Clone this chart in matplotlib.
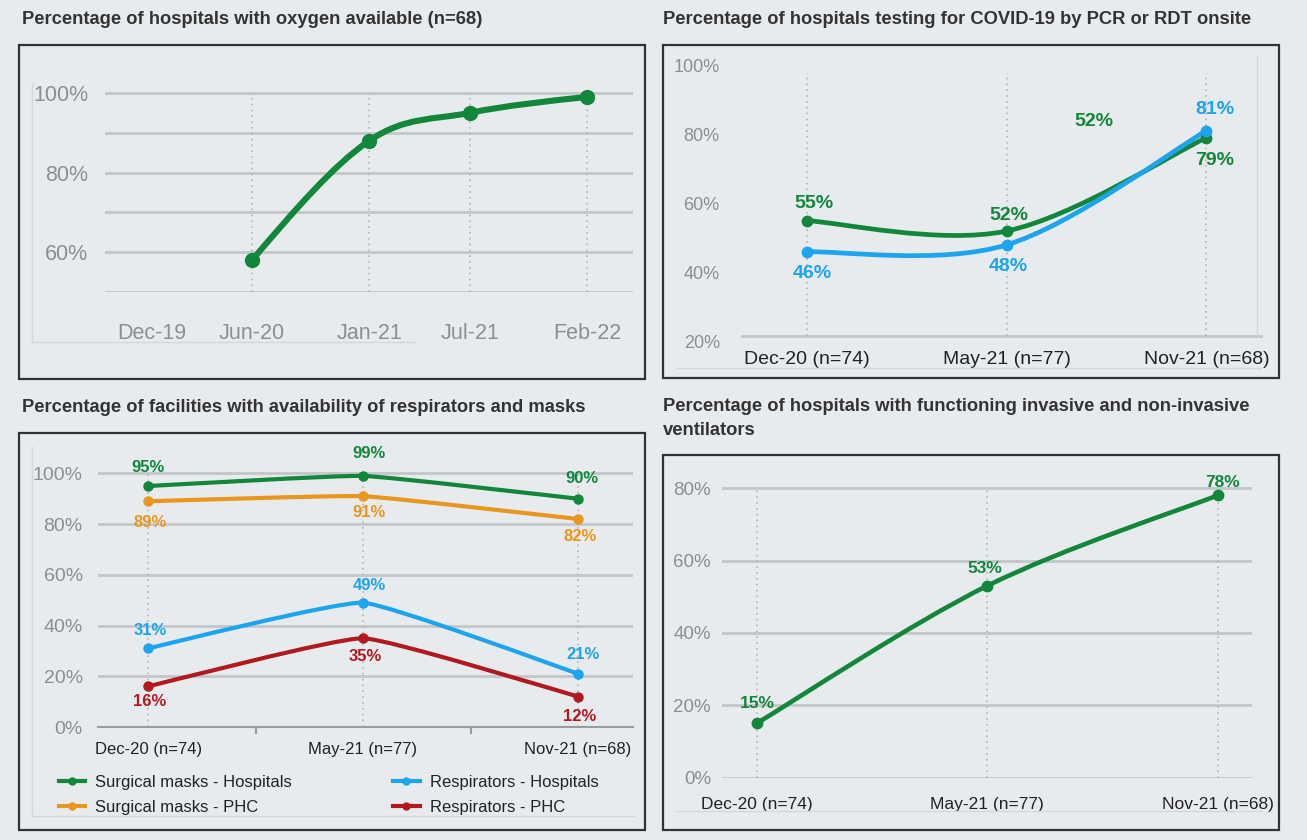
import numpy as np
import matplotlib
matplotlib.use('Agg')
import matplotlib.pyplot as plt
from matplotlib.path import Path
from matplotlib.patches import PathPatch, Rectangle
from matplotlib.lines import Line2D

plt.rcParams['font.family'] = ['Liberation Sans', 'DejaVu Sans']

# data
oxy_months = [0, 6, 13, 19, 26]          # months since Dec-19
oxy_labels = ['Dec-19', 'Jun-20', 'Jan-21', 'Jul-21', 'Feb-22']
oxy_x = [6, 13, 19, 26]
oxy_vals = [58, 88, 95, 99]

rounds = ['Dec-20 (n=74)', 'May-21 (n=77)', 'Nov-21 (n=68)']

test_green = [55, 52, 79]
test_blue = [46, 48, 81]

masks_hosp = [95, 99, 90]
masks_phc = [89, 91, 82]
resp_hosp = [31, 49, 21]
resp_phc = [16, 35, 12]

vent_vals = [15, 53, 78]

BG = '#e8ebee'
GREEN = '#12873a'
BLUE = '#1ca4ee'
ORANGE = '#e8961e'
RED = '#b0191e'
GRID = '#c4c6c8'
DOT = '#b4b6b8'
TICKGRAY = '#8e8e8e'
DARK = '#222222'

W, H = 1307, 840
fig = plt.figure(figsize=(W / 100, H / 100), dpi=100, facecolor=BG)


def px_axes(x0, y0, x1, y1):
    ax = fig.add_axes([x0 / W, 1 - y1 / H, (x1 - x0) / W, (y1 - y0) / H])
    ax.set_facecolor('none')
    for s in ax.spines.values():
        s.set_visible(False)
    return ax


def px_line(x0, y0, x1, y1, color='#d3d7db', lw=1.0):
    fig.add_artist(Line2D([x0 / W, x1 / W], [1 - y0 / H, 1 - y1 / H],
                          transform=fig.transFigure, color=color, lw=lw))


def box(x0, y0, x1, y1):
    fig.add_artist(Rectangle((x0 / W, 1 - y1 / H), (x1 - x0) / W, (y1 - y0) / H,
                             transform=fig.transFigure, fill=False,
                             ec='#2f3336', lw=1.6))


def title(x, y, txt):
    fig.text(x / W, 1 - y / H, txt, fontsize=13.25, fontweight='bold',
             color='#333333', ha='left', va='center', linespacing=1.5)


def smooth(ax, xs, ys, color, lw, ms, t=1 / 6, natural_ends=False):
    # smoothed line (cubic bezier through the points)
    pts = np.column_stack([xs, ys]).astype(float)
    n = len(pts)
    verts = [pts[0]]
    codes = [Path.MOVETO]
    for i in range(n - 1):
        p0 = pts[max(i - 1, 0)]
        p1 = pts[i]
        p2 = pts[i + 1]
        p3 = pts[min(i + 2, n - 1)]
        c1 = p1 + (p2 - p0) * t
        c2 = p2 - (p3 - p1) * t
        if natural_ends and n > 2:
            if i == 0:
                c1 = (p1 + c2) / 2
            if i == n - 2:
                c2 = (p2 + c1) / 2
        verts += [c1, c2, p2]
        codes += [Path.CURVE4] * 3
    ax.add_patch(PathPatch(Path(verts, codes), fill=False, ec=color, lw=lw,
                           capstyle='round', joinstyle='round', zorder=3))
    ax.plot(xs, ys, 'o', color=color, ms=ms, zorder=4)


def label(ax, x, v, color, dx, dy, fs):
    # dx, dy in pixels, dy > 0 means above the point
    ax.annotate(f'{v}%', (x, v), xytext=(dx * 0.72, dy * 0.72),
                textcoords='offset points', ha='center', va='center',
                color=color, fontweight='bold', fontsize=fs, zorder=5)


def pct(ax):
    ax.yaxis.set_major_formatter(plt.FuncFormatter(lambda v, p: f'{v:.0f}%'))


# ---------------- panel 1: oxygen ----------------
title(22, 20, 'Percentage of hospitals with oxygen available (n=68)')
box(19, 45, 645, 379)
px_line(32, 83, 32, 342)
px_line(32, 342, 415, 342)
ax1 = px_axes(105, 83, 633, 292)
ax1.set_xlim(-2.78, 28.75)
ax1.set_ylim(50, 102.5)
ax1.set_yticks([60, 80, 100])
ax1.set_yticks([50, 70, 90], minor=True)
pct(ax1)
ax1.grid(axis='y', which='both', color=GRID, lw=2)
ax1.set_xticks(oxy_months)
ax1.set_xticklabels(oxy_labels)
ax1.tick_params(axis='both', which='both', length=0, labelcolor=TICKGRAY,
                labelsize=15.5)
ax1.tick_params(axis='y', pad=12)
ax1.tick_params(axis='x', pad=22)
ax1.vlines(oxy_x, 50, 100, colors=DOT, lw=1.2, linestyles=(0, (1, 2.5)))
smooth(ax1, oxy_x, oxy_vals, GREEN, 4.4, 10, natural_ends=True)

# ---------------- panel 2: testing ----------------
title(663, 20, 'Percentage of hospitals testing for COVID-19 by PCR or RDT onsite')
box(663, 45, 1279, 378)
px_line(676, 368, 1261, 368)
px_line(1257, 57, 1257, 336)
xr = np.arange(len(rounds))
ax2 = px_axes(742, 65, 1261, 341.7)
ax2.set_xlim(-0.325, 2.273)
ax2.set_ylim(20, 100)
ax2.set_yticks([20, 40, 60, 80, 100])
pct(ax2)
ax2.set_xticks(xr)
ax2.set_xticklabels(rounds)
ax2.tick_params(axis='both', length=0)
ax2.tick_params(axis='y', labelcolor=TICKGRAY, labelsize=13, pad=16)
ax2.tick_params(axis='x', labelcolor=DARK, labelsize=14, pad=7)
ax2.axhline(21.6, color=GRID, lw=2, clip_on=False)
ax2.vlines(xr, 21.6, 97.6, colors=DOT, lw=1.2, linestyles=(0, (1, 2.5)))
smooth(ax2, xr, test_green, GREEN, 3.4, 7.5)
smooth(ax2, xr, test_blue, BLUE, 3.4, 7.5)
for i, (dx, dy) in enumerate([(7, 17), (2, 16), (8, -23)]):
    label(ax2, xr[i], test_green[i], GREEN, dx, dy, 14)
for i, (dx, dy) in enumerate([(5, -22), (2, -22), (8, 21)]):
    label(ax2, xr[i], test_blue[i], BLUE, dx, dy, 14)
ax2.text(1.437, 83.8, f'{test_green[1]}%', color=GREEN, fontweight='bold',
         fontsize=14, ha='center', va='center')

# ---------------- panel 3: masks ----------------
title(22, 407, 'Percentage of facilities with availability of respirators and masks')
box(19, 433, 645, 830)
px_line(32, 447, 32, 816)
px_line(32, 816, 635, 816)
ax3 = px_axes(98, 448, 633, 727)
ax3.set_xlim(-0.233, 2.256)
ax3.set_ylim(0, 110)
ax3.set_yticks([0, 20, 40, 60, 80, 100])
pct(ax3)
ax3.grid(axis='y', color=GRID, lw=2)
ax3.set_axisbelow(True)
ax3.spines['bottom'].set_visible(True)
ax3.spines['bottom'].set_color('#9a9c9e')
ax3.spines['bottom'].set_linewidth(1.5)
ax3.set_xticks(xr)
ax3.set_xticklabels(rounds)
ax3.set_xticks([0.5, 1.5], minor=True)
ax3.tick_params(axis='both', which='major', length=0)
ax3.tick_params(axis='x', which='minor', length=5, color='#9a9c9e', width=1.5)
ax3.tick_params(axis='y', labelcolor=TICKGRAY, labelsize=14, pad=11)
ax3.tick_params(axis='x', labelcolor=DARK, labelsize=12, pad=11)
ax3.vlines(xr, 0, 100, colors=DOT, lw=1.2, linestyles=(0, (1, 2.5)))
series3 = [
    (masks_hosp, GREEN, 'Surgical masks - Hospitals', [(0, 19), (6, 22), (4, 20)]),
    (masks_phc, ORANGE, 'Surgical masks - PHC', [(2, -21), (6, -16), (2, -17)]),
    (resp_hosp, BLUE, 'Respirators - Hospitals', [(2, 18), (6, 17), (5, 19)]),
    (resp_phc, RED, 'Respirators - PHC', [(2, -15), (2, -18), (2, -20)]),
]
handles = []
for vals, col, name, offs in series3:
    smooth(ax3, xr, vals, col, 3, 6.5, t=0.06)
    for i, (dx, dy) in enumerate(offs):
        label(ax3, xr[i], vals[i], col, dx, dy, 12)
    handles.append(Line2D([], [], color=col, lw=3, marker='o', ms=5, label=name))
ax3.legend(handles=handles, ncol=2, loc='upper left',
           bbox_to_anchor=(52 / W, 1 - 768 / H), bbox_transform=fig.transFigure,
           frameon=False, fontsize=12, handlelength=1.6, handletextpad=0.6,
           columnspacing=6.05, labelspacing=0.6, labelcolor=DARK,
           borderaxespad=0)

# ---------------- panel 4: ventilators ----------------
title(663, 418.5, 'Percentage of hospitals with functioning invasive and non-invasive\nventilators')
box(663, 455, 1279, 830)
px_line(676, 811, 1262, 811)
ax4 = px_axes(722, 470, 1251.7, 777.7)
ax4.set_xlim(-0.15, 2.147)
ax4.set_ylim(0, 85)
ax4.set_yticks([0, 20, 40, 60, 80])
pct(ax4)
ax4.grid(axis='y', color=GRID, lw=2)
ax4.set_axisbelow(True)
ax4.set_xticks(xr)
ax4.set_xticklabels(rounds)
ax4.tick_params(axis='both', length=0)
ax4.tick_params(axis='y', labelcolor=TICKGRAY, labelsize=13.5, pad=8)
ax4.tick_params(axis='x', labelcolor=DARK, labelsize=12.5, pad=14)
ax4.vlines(xr, 0, 80, colors=DOT, lw=1.2, linestyles=(0, (1, 2.5)))
smooth(ax4, xr, vent_vals, GREEN, 3.3, 7.5)
for i, (dx, dy) in enumerate([(1, 20), (-2, 17), (5, 13)]):
    label(ax4, xr[i], vent_vals[i], GREEN, dx, dy, 12.5)

fig.savefig('out.png', dpi=100, facecolor=BG)
